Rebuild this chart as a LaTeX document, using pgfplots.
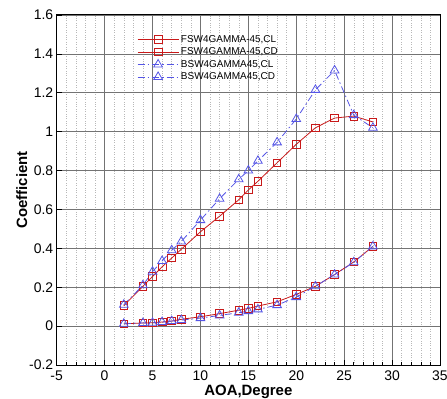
\documentclass[border=0pt]{standalone}
\usepackage{fontspec}
\setmainfont{Liberation Sans}
\usepackage{pgfplots}
\pgfplotsset{compat=1.18}
\definecolor{cred}{RGB}{200,25,25}
\definecolor{cblue}{RGB}{85,85,230}
\begin{document}
\begin{tikzpicture}
\begin{axis}[
  scale only axis,
  width=383.3bp, height=350bp,
  xmin=-5, xmax=35, ymin=-0.2, ymax=1.6,
  xtick={-5,0,...,35},
  ytick={-0.2,0,0.2,...,1.6},
  minor x tick num=4, minor y tick num=3,
  tick align=inside,
  xtick pos=bottom, ytick pos=left,
  major tick length=5bp, minor tick length=3bp,
  grid=both,
  major grid style={line width=0.7pt, color=black!55},
  minor grid style={dotted, line width=0.5pt, color=black!28},
  axis line style={line width=1pt, black},
  every tick/.style={black, line width=0.6pt},
  /pgf/number format/assume math mode=true,
  ticklabel style={font=\fontsize{14}{16}\selectfont},
  yticklabel style={/pgf/number format/fixed},
  xticklabel style={yshift=-2bp},
  xlabel={AOA,Degree}, ylabel={Coefficient},
  label style={font=\bfseries\fontsize{15}{17}\selectfont},
  xlabel style={at={(axis description cs:0.5,-0.077)}, anchor=center},
  ylabel style={at={(axis description cs:-0.0913,0.5)}, anchor=center, rotate=0},
  legend style={draw=none, fill=none, at={(0.2095,0.948)}, anchor=north west,
    font=\fontsize{10}{10.7}\selectfont, inner sep=0pt,
    /tikz/every even column/.append style={column sep=0bp}},
  legend cell align=left,
  legend image code/.code={\draw[mark repeat=2,mark phase=2] plot coordinates {(0bp,0bp) (20.5bp,0bp) (41bp,0bp)};},
]
\addplot[cred, line width=0.8pt, mark=square, mark size=3.8bp, mark options={solid, line width=0.8pt}] coordinates {
(2,0.105) (4,0.205) (5,0.255) (6,0.305) (7,0.35) (8,0.395) (10,0.485) (12,0.565) (14,0.65) (15,0.70) (16,0.745) (18,0.84) (20,0.935) (22,1.02) (24,1.07) (26,1.08) (28,1.05)};
\addlegendentry{FSW4GAMMA-45,CL}
\addplot[cred, line width=0.8pt, mark=square, mark size=3.8bp, mark options={solid, line width=0.8pt}] coordinates {
(2,0.012) (4,0.016) (5,0.017) (6,0.021) (7,0.026) (8,0.035) (10,0.048) (12,0.064) (14,0.082) (15,0.091) (16,0.103) (18,0.125) (20,0.163) (22,0.205) (24,0.265) (26,0.33) (28,0.41)};
\addlegendentry{FSW4GAMMA-45,CD}
\addplot[cblue, line width=0.8pt, dash pattern=on 7bp off 3bp on 1.5bp off 3bp, mark=triangle, mark size=5bp, mark options={solid, line width=0.8pt}] coordinates {
(2,0.11) (4,0.21) (5,0.28) (6,0.335) (7,0.39) (8,0.435) (10,0.545) (12,0.655) (14,0.755) (15,0.80) (16,0.85) (18,0.945) (20,1.065) (22,1.215) (24,1.315) (26,1.085) (28,1.02)};
\addlegendentry{BSW4GAMMA45,CL}
\addplot[cblue, line width=0.8pt, dash pattern=on 7bp off 3bp on 1.5bp off 3bp, mark=triangle, mark size=5bp, mark options={solid, line width=0.8pt}] coordinates {
(2,0.012) (4,0.016) (5,0.017) (6,0.021) (7,0.026) (8,0.031) (10,0.041) (12,0.055) (14,0.069) (15,0.077) (16,0.086) (18,0.108) (20,0.149) (22,0.205) (24,0.265) (26,0.328) (28,0.41)};
\addlegendentry{BSW4GAMMA45,CD}
\coordinate (bl) at (rel axis cs:0,0);
\coordinate (tr) at (rel axis cs:1,1);
\end{axis}
\pgfresetboundingbox
\path[use as bounding box] ([shift={(-56.7bp,-34bp)}]bl) rectangle ([shift={(7bp,15bp)}]tr);
\end{tikzpicture}
\end{document}
